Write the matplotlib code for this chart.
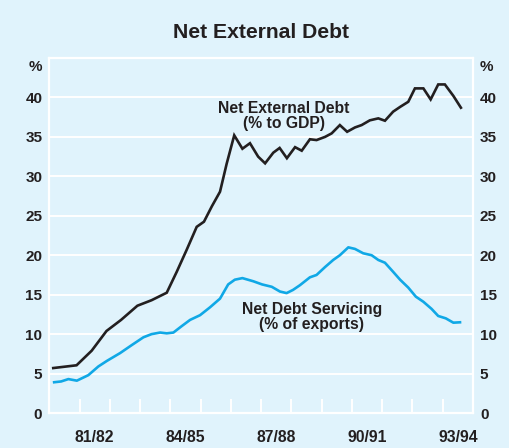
#!/usr/bin/env python3

"""
Net External Debt chart
"""

import matplotlib.pyplot as plt
from matplotlib.ticker import FixedLocator, NullFormatter

plt.rcParams['font.family'] = ['Liberation Sans', 'DejaVu Sans']
plt.rcParams['font.weight'] = 'bold'

# quarters as decimal years (financial years begin at x.5)
debtYears = [1980.63, 1981.40, 1981.90, 1982.39, 1982.87, 1983.41, 1983.88,
             1984.38, 1984.71, 1985.04, 1985.37, 1985.61, 1985.87, 1986.14,
             1986.36, 1986.61, 1986.88, 1987.13, 1987.40, 1987.63, 1987.90,
             1988.11, 1988.35, 1988.62, 1988.84, 1989.11, 1989.33, 1989.61,
             1989.83, 1990.10, 1990.34, 1990.60, 1990.82, 1991.09, 1991.37,
             1991.59, 1991.86, 1992.09, 1992.36, 1992.58, 1992.86, 1993.10,
             1993.35, 1993.57, 1993.85, 1994.10]
debtGdp = [5.7, 6.05, 7.9, 10.4, 11.8, 13.6, 14.3,
           15.25, 17.9, 20.7, 23.6, 24.25, 26.2, 28.05,
           31.6, 35.2, 33.5, 34.2, 32.5, 31.65, 33.0,
           33.6, 32.3, 33.7, 33.25, 34.7, 34.6, 35.0,
           35.45, 36.5, 35.65, 36.2, 36.5, 37.1, 37.35,
           37.05, 38.2, 38.8, 39.45, 41.15, 41.15, 39.75,
           41.65, 41.65, 40.2, 38.7]

servYears = [1980.66, 1980.89, 1981.13, 1981.41, 1981.79, 1982.12, 1982.40,
             1982.84, 1983.22, 1983.61, 1983.88, 1984.16, 1984.38, 1984.60,
             1984.87, 1985.15, 1985.48, 1985.81, 1986.14, 1986.41, 1986.63,
             1986.88, 1987.24, 1987.53, 1987.85, 1988.12, 1988.34, 1988.55,
             1988.78, 1989.11, 1989.33, 1989.61, 1989.88, 1990.10, 1990.38,
             1990.60, 1990.87, 1991.15, 1991.37, 1991.59, 1991.86, 1992.09,
             1992.36, 1992.61, 1992.86, 1993.13, 1993.35, 1993.60, 1993.85,
             1994.07]
servExports = [3.9, 4.0, 4.3, 4.1, 4.8, 5.9, 6.6,
               7.6, 8.6, 9.6, 10.0, 10.2, 10.1, 10.2,
               11.0, 11.8, 12.4, 13.4, 14.5, 16.3, 16.9,
               17.1, 16.7, 16.3, 16.0, 15.4, 15.2, 15.6,
               16.2, 17.2, 17.5, 18.5, 19.4, 20.0, 21.0,
               20.8, 20.25, 20.0, 19.4, 19.05, 17.9, 16.9,
               15.9, 14.75, 14.1, 13.2, 12.3, 12.0, 11.45,
               11.5]

yTicks = [0, 5, 10, 15, 20, 25, 30, 35, 40]
yearLabels = ["81/82", "84/85", "87/88", "90/91", "93/94"]
labelPos = [1982.0, 1985.0, 1988.0, 1991.0, 1994.0]

bg = "#e0f3fc"
ink = "#231f20"
blue = "#10a8e6"


def plotChart():
    fig = plt.figure(figsize=(5.1, 4.48), dpi=100, facecolor=bg)
    ax = fig.add_axes([0.0967, 0.0781, 0.8308, 0.7924], facecolor=bg)

    ax.plot(debtYears, debtGdp, color=ink, lw=1.9, solid_joinstyle='miter')
    ax.plot(servYears, servExports, color=blue, lw=1.9)

    ax.set_xlim(1980.5, 1994.5)
    ax.set_ylim(0, 45)

    for s in ax.spines.values():
        s.set_color("white")
        s.set_linewidth(1.6)

    ax.set_yticks(yTicks)
    ax.yaxis.grid(True, color="white", lw=1.4)
    ax.set_axisbelow(True)
    ax.tick_params(axis='y', length=0, labelsize=11, colors=ink,
                   labelright=True, pad=5)

    ax.xaxis.set_major_locator(FixedLocator([y + 0.5 for y in range(1981, 1994)]))
    ax.xaxis.set_major_formatter(NullFormatter())
    ax.xaxis.set_minor_locator(FixedLocator(labelPos))
    ax.set_xticklabels(yearLabels, minor=True)
    ax.tick_params(axis='x', which='major', direction='in', length=10,
                   color="white", width=1.4)
    ax.tick_params(axis='x', which='minor', length=0, labelsize=11.3,
                   colors=ink, pad=12)

    ax.text(-0.016, 43.9, "%", transform=ax.get_yaxis_transform(),
            ha='right', va='center', fontsize=11, color=ink)
    ax.text(1.015, 43.9, "%", transform=ax.get_yaxis_transform(),
            ha='left', va='center', fontsize=11, color=ink)

    ax.text(1988.25, 37.7, "Net External Debt\n(% to GDP)", ha='center',
            va='center', fontsize=11.3, color=ink, linespacing=1.0)
    ax.text(1989.17, 12.2, "Net Debt Servicing\n(% of exports)", ha='center',
            va='center', fontsize=11.3, color=ink, linespacing=1.0)

    fig.text(0.512, 0.927, "Net External Debt", ha='center', va='center',
             fontsize=15.2, color=ink)

    fig.savefig("out.png", dpi=100, facecolor=bg)


def main():
    plotChart()


if __name__ == "__main__":
    main()
